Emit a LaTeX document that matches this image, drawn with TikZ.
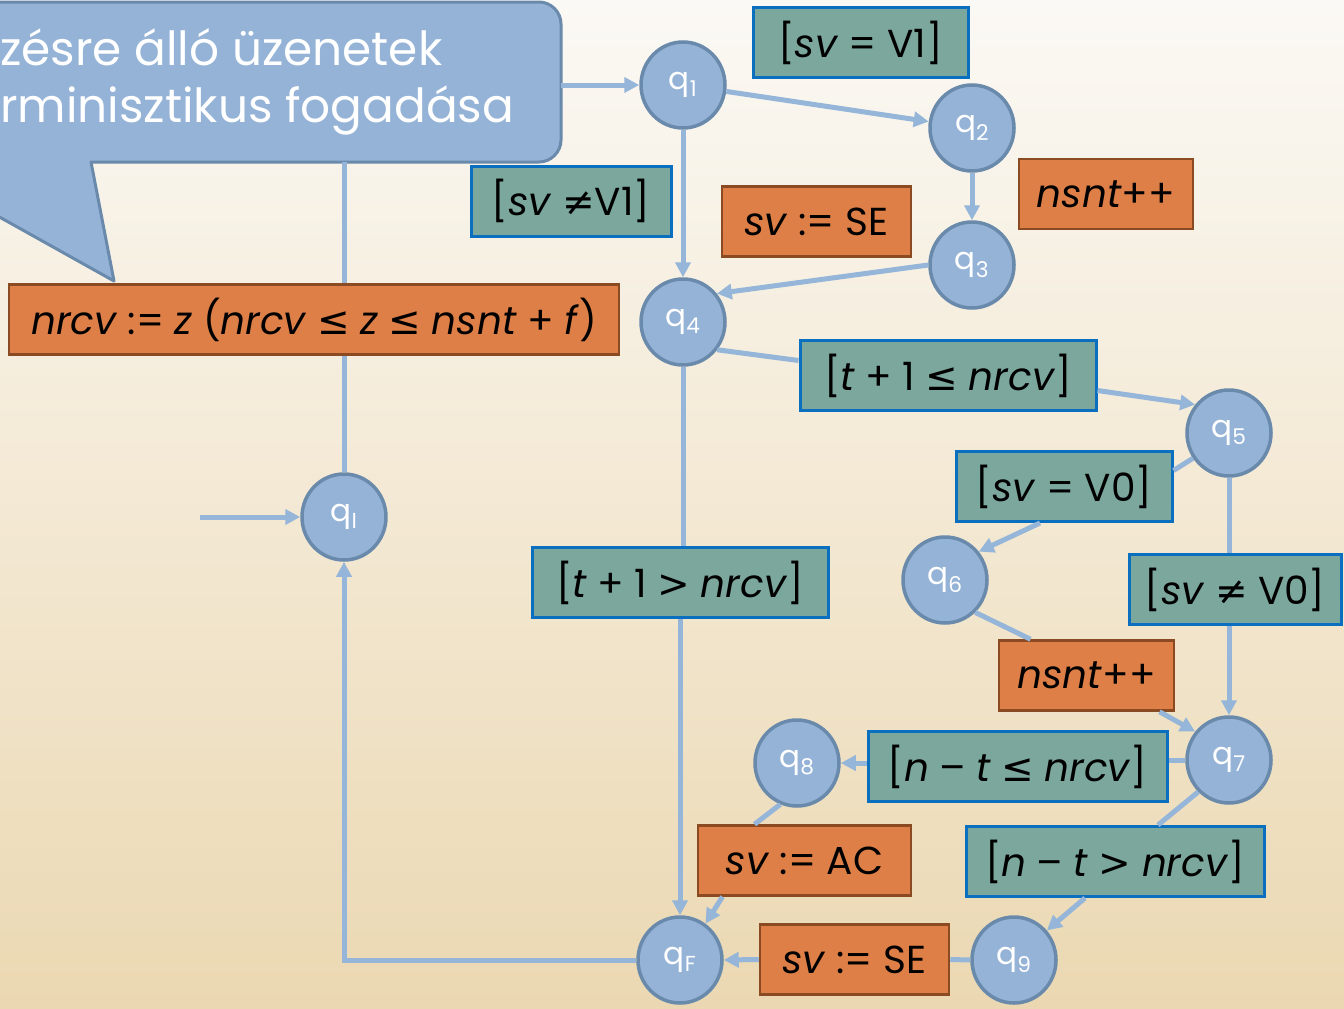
\documentclass[tikz,border=0pt]{standalone}
\usepackage{fontspec}
\setmainfont{Poppins}
\newfontfamily\symf{DejaVu Sans}
\usetikzlibrary{arrows.meta,shapes.geometric,calc}
\definecolor{bgtop}{HTML}{FBF9F5}
\definecolor{bgbot}{HTML}{EBD8B2}
\definecolor{nfill}{HTML}{95B3D7}
\definecolor{nborder}{HTML}{6A8AAC}
\definecolor{ecol}{HTML}{95B6D9}
\definecolor{gfill}{HTML}{7BA79D}
\definecolor{gborder}{HTML}{0B6FBF}
\definecolor{ofill}{HTML}{DD7F47}
\definecolor{oborder}{HTML}{8A4A22}
\newcommand\mle{{\symf ≤}}
\newcommand\mne{{\symf ≠}}
\newcommand\mgt{{\symf >}}
\begin{document}
\begin{tikzpicture}[x=1pt,y=-1pt,
  state/.style={ellipse,draw=nborder,fill=nfill,line width=3.5pt,minimum width=84pt,minimum height=86pt,inner sep=0pt,text=white,font=\fontsize{31}{33}\selectfont},
  gbox/.style={draw=gborder,fill=gfill,line width=3pt,minimum height=70pt,inner sep=0pt,text=black,font=\fontsize{39}{42}\selectfont},
  obox/.style={draw=oborder,fill=ofill,line width=2.5pt,minimum height=70pt,inner sep=0pt,text=black,font=\fontsize{39}{42}\selectfont},
  arr/.style={draw=ecol,line width=5pt,-{Triangle[length=15pt,width=15pt]}},
  ln/.style={draw=ecol,line width=5pt},
  calltext/.style={text=white,anchor=base west,inner sep=0pt,font=\fontsize{47}{50}\selectfont}]
\useasboundingbox (0,0) rectangle (1344,1009);
\clip (0,0) rectangle (1344,1009);
\shade[top color=bgtop,bottom color=bgbot] (0,0) rectangle (1344,1009);
% callout
\draw[draw=nborder,fill=nfill,line width=3pt,line join=round]
  (-40,2) -- (539,2) .. controls (551,2) and (561,12) .. (561,24) -- (561,140)
  .. controls (561,152) and (551,162) .. (539,162) -- (91,162) -- (114,281) -- (-40,195) -- cycle;
\node[calltext] (c1) at (0,65) {zésre álló üzenetek};
\node[calltext] (c2) at (0,122) {rminisztikus fogadása};
\coordinate (co) at (561,85);
\coordinate (cob) at (344,162);
\coordinate (init) at (200,517);
% states
\node[state] (q1) at (683,85) {q\textsubscript{1}};
\node[state] (q2) at (972,128) {q\textsubscript{2}};
\node[state] (q3) at (972,265) {q\textsubscript{3}};
\node[state] (q4) at (683,322) {q\textsubscript{4}};
\node[state] (q5) at (1229,433) {q\textsubscript{5}};
\node[state] (q6) at (945,580) {q\textsubscript{6}};
\node[state] (q7) at (1229,760) {q\textsubscript{7}};
\node[state] (q8) at (797,763) {q\textsubscript{8}};
\node[state] (q9) at (1014,960) {q\textsubscript{9}};
\node[state] (qF) at (680,960) {q\textsubscript{F}};
\node[state] (qI) at (344,517) {q\textsubscript{I}};
% guard boxes
\node[gbox,minimum width=215pt] (v1) at (860.5,42.5) {[\textit{sv} = V1]};
\node[gbox,minimum width=200pt] (nv1) at (571,201) {[\textit{sv} \mne V1]};
\node[gbox,minimum width=296pt] (tle) at (948,375.5) {[\textit{t} + 1 \mle\ \textit{nrcv}]};
\node[gbox,minimum width=216pt] (v0) at (1064,486.5) {[\textit{sv} = V0]};
\node[gbox,minimum width=296pt] (tgt) at (680,582.5) {[\textit{t} + 1 \mgt\ \textit{nrcv}]};
\node[gbox,minimum width=212pt] (nv0) at (1235,589.5) {[\textit{sv} \mne\ V0]};
\node[gbox,minimum width=299pt] (ntle) at (1017.5,766.5) {[\textit{n} – \textit{t} \mle\ \textit{nrcv}]};
\node[gbox,minimum width=298pt] (ntgt) at (1115,861.5) {[\textit{n} – \textit{t} \mgt\ \textit{nrcv}]};
% action boxes
\node[obox,minimum width=189pt] (se1) at (816.5,221.5) {\textit{sv} := SE};
\node[obox,minimum width=174pt] (ns1) at (1106,194) {\textit{nsnt}++};
\node[obox,minimum width=610pt] (nr) at (314,319.5) {\textit{nrcv} := \textit{z} (\textit{nrcv} \mle\ \textit{z} \mle\ \textit{nsnt} + \textit{f})};
\node[obox,minimum width=175pt] (ns2) at (1086.5,675.5) {\textit{nsnt}++};
\node[obox,minimum width=213pt] (ac) at (804.5,860.5) {\textit{sv} := AC};
\node[obox,minimum width=189pt] (se2) at (854.5,959.5) {\textit{sv} := SE};
% connectors
\draw[arr] (co) -- (q1.west);
\draw[arr] (q1) -- (q2);
\draw[arr] (q1) -- (q4);
\draw[arr] (q2) -- (q3);
\draw[arr] (q3.west) -- (q4.40);
\draw[ln] (q4.-39) -- ([yshift=15pt]tle.west);
\draw[arr] ([yshift=-15pt]tle.east) -- (q5.140);
\draw[ln] (q4) -- (q4 |- tgt.north);
\draw[arr] (tgt.south) -- (qF);
\draw[ln] (q5.215) -- ([yshift=16pt]v0.east);
\draw[arr] ([xshift=-24pt]v0.south) -- (q6.40);
\draw[ln] (q5) -- (q5 |- nv0.north);
\draw[arr] (q7 |- nv0.south) -- (q7);
\draw[ln] (q6.-47) -- ([xshift=-56pt]ns2.north);
\draw[arr] ([xshift=73pt]ns2.south) -- (q7.140);
\draw[ln] (q7.west) -- (q7.west -| ntle.east);
\draw[arr] (ntle.west |- q8) -- (q8.east);
\draw[ln] (q8.-112) -- ([xshift=-50pt]ac.north);
\draw[arr] ([xshift=-82pt]ac.south) -- (qF.55);
\draw[ln] (q7.-134) -- ([xshift=43pt]ntgt.north);
\draw[arr] ([xshift=-30pt]ntgt.south) -- (q9.42);
\draw[ln] (q9.west) -- (se2.east);
\draw[arr] (se2.west) -- (qF.east);
\draw[arr] (qF.west) -| (qI.south);
\draw[ln] (qI.north) -- (qI |- nr.south);
\draw[ln] (qI |- nr.north) -- (cob);
\draw[arr] (init) -- (qI.west);
\end{tikzpicture}
\end{document}
